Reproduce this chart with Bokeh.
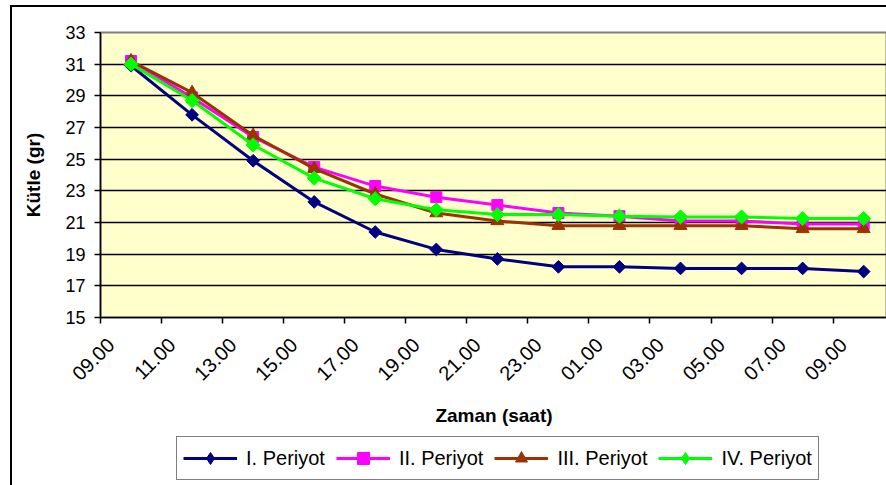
import math
from bokeh.plotting import figure
from bokeh.layouts import column
from bokeh.models import Range1d, FixedTicker, Legend, LegendItem, LinearAxis, Grid
from bokeh.embed import file_html
from bokeh.resources import INLINE

times = ["09.00", "11.00", "13.00", "15.00", "17.00", "19.00", "21.00",
         "23.00", "01.00", "03.00", "05.00", "07.00", "09.00"]
p1 = [30.9, 27.8, 24.9, 22.3, 20.4, 19.3, 18.7, 18.2, 18.2, 18.1, 18.1, 18.1, 17.9]
p2 = [31.2, 28.9, 26.4, 24.5, 23.3, 22.6, 22.1, 21.6, 21.4, 21.1, 21.1, 20.9, 20.9]
p3 = [31.2, 29.2, 26.5, 24.4, 22.8, 21.6, 21.1, 20.8, 20.8, 20.8, 20.8, 20.6, 20.6]
p4 = [31.0, 28.7, 25.9, 23.8, 22.5, 21.8, 21.5, 21.5, 21.4, 21.35, 21.35, 21.25, 21.25]
series_names = ["I. Periyot", "II. Periyot", "III. Periyot", "IV. Periyot"]
y_ticks = [15, 17, 19, 21, 23, 25, 27, 29, 31, 33]

FONT = "Liberation Sans"
xs = list(range(len(times)))
X0, X1 = -0.5, 12.39
LAB_SHIFT = 0.33  # moves rotated labels left of category centre, as in the reference

p = figure(width=875, height=424, output_backend="svg", toolbar_location=None,
           x_range=Range1d(X0, X1), y_range=Range1d(15, 33),
           x_axis_location=None,
           min_border_left=88, min_border_right=0, min_border_top=25,
           min_border_bottom=114, background_fill_color="#FFFFCC",
           border_fill_color="white", outline_line_color="#808080",
           outline_line_width=2)
p.center = [r for r in p.center if not (isinstance(r, Grid) and r.dimension == 0)]

p.extra_x_ranges = {"lab": Range1d(X0 + LAB_SHIFT, X1 + LAB_SHIFT)}
xaxis = LinearAxis(x_range_name="lab",
                   ticker=FixedTicker(ticks=xs,
                                      minor_ticks=[k - 0.5 + LAB_SHIFT for k in range(len(times) + 1)]))
xaxis.major_label_overrides = {i: t for i, t in enumerate(times)}
xaxis.major_label_orientation = math.pi / 4
xaxis.major_tick_out = 0
xaxis.major_tick_in = 0
xaxis.minor_tick_out = 6
xaxis.minor_tick_in = 0
xaxis.minor_tick_line_color = "black"
xaxis.minor_tick_line_width = 1.5
xaxis.axis_label = "Zaman (saat)"
p.add_layout(xaxis, "below")

p.yaxis.ticker = FixedTicker(ticks=y_ticks, minor_ticks=[])
p.yaxis.major_tick_out = 6
p.yaxis.major_tick_in = 0
p.yaxis.axis_label = "Kütle (gr)"

for ax in (xaxis, p.yaxis[0]):
    ax.axis_line_color = "black"
    ax.axis_line_width = 1.5
    ax.major_tick_line_color = "black"
    ax.major_tick_line_width = 1.5
    ax.major_label_text_font = FONT
    ax.major_label_text_color = "black"
    ax.axis_label_text_font = FONT
    ax.axis_label_text_font_size = "19px"
    ax.axis_label_text_font_style = "bold"
    ax.axis_label_text_color = "black"
p.yaxis.major_label_text_font_size = "18px"
xaxis.major_label_text_font_size = "20px"
xaxis.major_label_standoff = 18
p.yaxis.major_label_standoff = 9
xaxis.axis_label_standoff = 15
p.yaxis.axis_label_standoff = 18

p.ygrid.ticker = FixedTicker(ticks=y_ticks[1:-1])
p.ygrid.grid_line_color = "black"
p.ygrid.grid_line_width = 1.5

styles = [
    ("#000080", "square", 9, math.pi / 4, "diamond"),
    ("#FF00FF", "square", 11, 0, "square"),
    ("#993300", "triangle", 13, 0, "triangle"),
    ("#00FF00", "square", 10, math.pi / 4, "diamond"),
]
series = [p1, p2, p3, p4]
for vals, (col, mk, sz, ang, _) in zip(series, styles):
    p.line(xs, vals, line_color=col, line_width=3)
    p.scatter(xs, vals, marker=mk, size=sz, angle=ang, fill_color=col, line_color=col)

# legend strip below the chart (same series, drawn outside its visible range)
pl = figure(width=875, height=55, output_backend="svg", toolbar_location=None,
            x_range=Range1d(100, 101), y_range=Range1d(100, 101),
            x_axis_location=None, y_axis_location=None,
            min_border_left=0, min_border_right=0, min_border_top=0,
            min_border_bottom=0, outline_line_color=None,
            background_fill_color="white", border_fill_color="white")
pl.center = [r for r in pl.center if not isinstance(r, Grid)]
items = []
for name, vals, (col, mk, sz, ang, lmk) in zip(series_names, series, styles):
    r1 = pl.line(xs, vals, line_color=col, line_width=3)
    r2 = pl.scatter(xs, vals, marker=lmk, size=sz, fill_color=col, line_color=col)
    items.append(LegendItem(label=name, renderers=[r1, r2]))

legend = Legend(items=items, orientation="horizontal", location=(76, 6),
                label_text_font=FONT, label_text_font_size="20px",
                label_text_color="black", glyph_width=54, glyph_height=30,
                label_standoff=9, spacing=11, padding=6, margin=0,
                border_line_color="black", border_line_width=1.5,
                background_fill_color="white", background_fill_alpha=1)
pl.add_layout(legend, "center")

layout = column(p, pl, spacing=0, margin=(5, 0, 0, 10))
layout.styles = {"border-left": "2px solid black", "border-top": "2px solid black"}

open("out.html", "w").write(file_html(layout, INLINE))
